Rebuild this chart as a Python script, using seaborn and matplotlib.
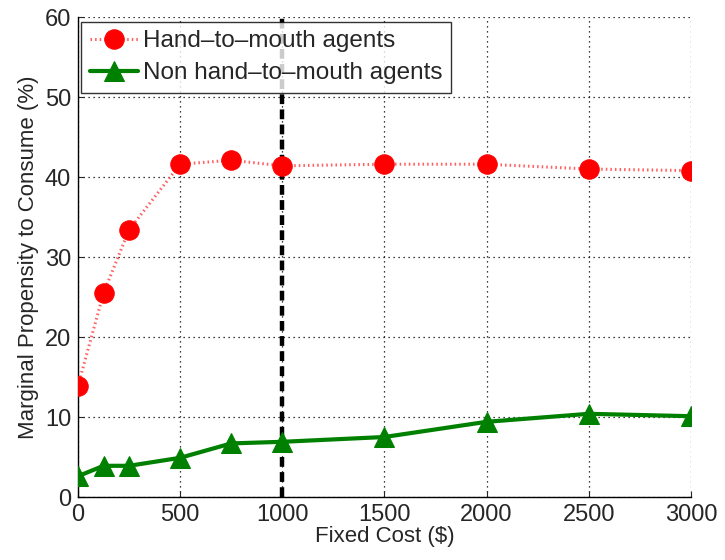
import matplotlib
matplotlib.use("Agg")
import matplotlib.pyplot as plt
import numpy as np
import pandas as pd
import seaborn as sns

fixed_cost = [0, 125, 250, 500, 750, 1000, 1500, 2000, 2500, 3000]
htm_mpc = [13.9, 25.5, 33.4, 41.6, 42.1, 41.4, 41.6, 41.6, 41.0, 40.8]
non_htm_mpc = [2.6, 3.9, 3.9, 4.9, 6.7, 6.9, 7.5, 9.4, 10.4, 10.1]
xticks = [0, 500, 1000, 1500, 2000, 2500, 3000]
yticks = [0, 10, 20, 30, 40, 50, 60]
cutoff = 1000

sns.set_style("white")
plt.rcParams['font.family'] = ['Liberation Sans', 'DejaVu Sans']

df = pd.DataFrame({"cost": fixed_cost, "htm": htm_mpc, "non_htm": non_htm_mpc})

fig = plt.figure(figsize=(7.25, 5.6), dpi=100)
ax = fig.add_axes([0.1076, 0.1125, 0.953 - 0.1076, 0.9696 - 0.1125])

ax.axvline(cutoff, color="black", lw=3.2, ls=(0, (2.2, 1.2)), zorder=2)

sns.lineplot(data=df, x="cost", y="htm", ax=ax, color="red", lw=2.2,
             ls=(0, (0.5, 1.0)), marker="o", markersize=14, markeredgecolor="red",
             label="Hand\u2013to\u2013mouth agents", zorder=3)
ax.lines[-1].set_color("#ff6060")
ax.lines[-1].set_markerfacecolor("red")
ax.lines[-1].set_markeredgecolor("red")
sns.lineplot(data=df, x="cost", y="non_htm", ax=ax, color="green", lw=3,
             marker="^", markersize=15, markeredgecolor="green",
             label="Non hand\u2013to\u2013mouth agents", zorder=4)

ax.set_xlim(0, 3000)
ax.set_ylim(0, 60)
ax.set_xticks(xticks)
ax.set_yticks(yticks)
ax.grid(True, color="black", ls=(0, (1, 3)), lw=0.9)
ax.tick_params(axis="both", direction="in", length=4, labelsize=17, pad=5,
               left=True, bottom=True)
for side in ["top", "right"]:
    ax.spines[side].set_visible(False)
for side in ["left", "bottom"]:
    ax.spines[side].set_color("black")
    ax.spines[side].set_linewidth(1)

ax.set_xlabel("Fixed Cost ($)", fontsize=16, labelpad=0)
ax.set_ylabel("Marginal Propensity to Consume (%)", fontsize=16, labelpad=4)

leg = ax.legend(loc="upper left", bbox_to_anchor=(0.005, 0.99), fontsize=17.5,
                frameon=True, fancybox=False, handlelength=2.0,
                handletextpad=0.2, borderpad=0.35, labelspacing=0.4,
                borderaxespad=0)
leg.get_frame().set_edgecolor("black")
leg.get_frame().set_linewidth(1)

fig.savefig("out.png", dpi=100)
